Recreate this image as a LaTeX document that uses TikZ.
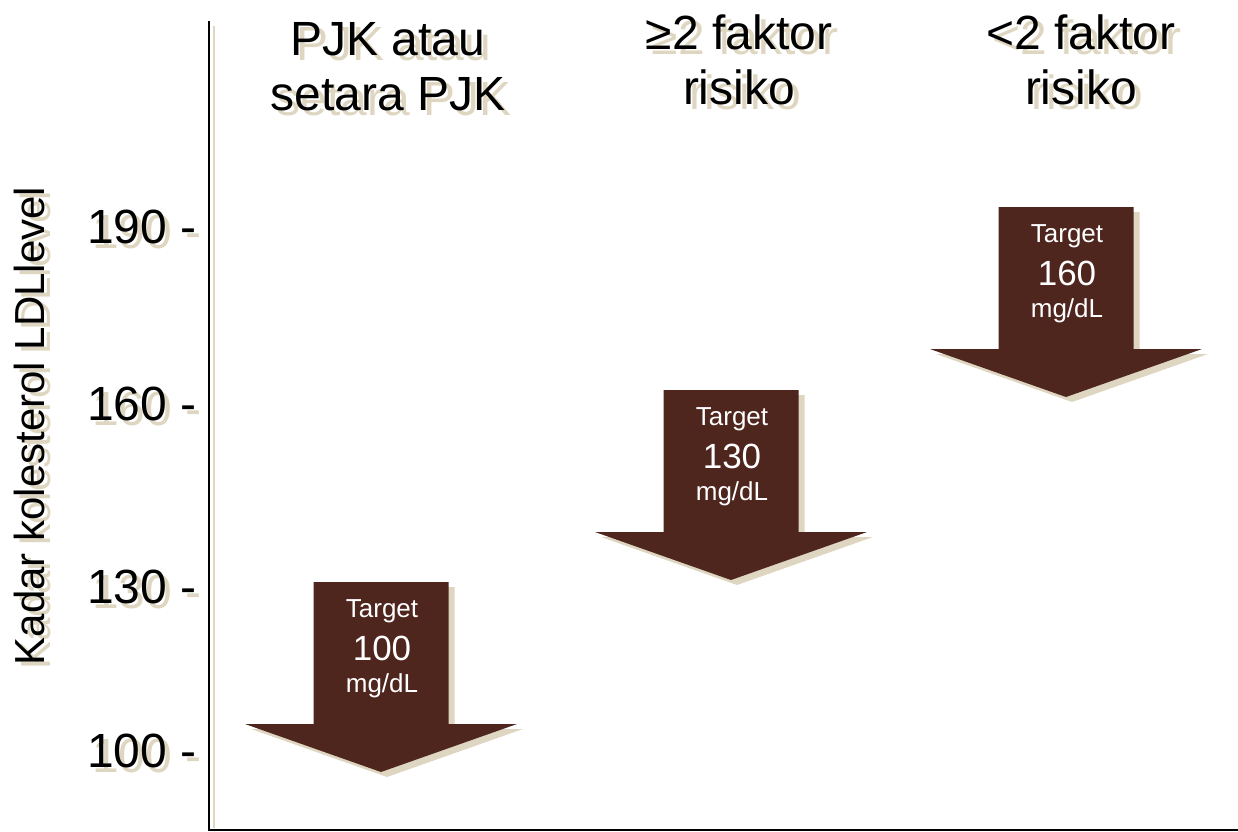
\documentclass[tikz,border=0pt]{standalone}
\usepackage{fontspec}
\setmainfont{Liberation Sans}
\usetikzlibrary{positioning}

\definecolor{arrowbrown}{RGB}{78,38,30}
\definecolor{shadowbeige}{RGB}{222,214,192}

\begin{document}
\begin{tikzpicture}[x=0.5pt,y=-0.5pt,
		headtext/.style={font=\fontsize{24}{27.5}\selectfont,align=center,inner sep=0pt,anchor=north},
		ticktext/.style={font=\fontsize{24}{28}\selectfont,inner sep=0pt,anchor=base east},
		titletext/.style={font=\fontsize{21}{25}\selectfont,inner sep=0pt,anchor=base,rotate=90},
		arrowtext/.style={font=\fontsize{13}{15}\selectfont,text=white,inner sep=0pt,anchor=base},
		valuetext/.style={font=\fontsize{17.5}{20}\selectfont,text=white,inner sep=0pt,anchor=base},
		beigecopy/.style={text=shadowbeige}]
		\useasboundingbox (0,0) rectangle (1238,831);

		% Axes
		\draw[shadowbeige,line width=1.2pt] (214,26) -- (214,828);
		\draw[line width=1pt] (209,21) -- (209,830) -- (1238,830);

		% Axis title
		\node[titletext,beigecopy] (title-s) at (50,430) {Kadar kolesterol LDLlevel};
		\node[titletext] (title) at (45,426) {Kadar kolesterol LDLlevel};

		% Tick labels
		\foreach \val/\yy in {190/243,160/420,130/603,100/767}{
			\node[ticktext,beigecopy] (tick\val-s) at (202,\yy+5) {\val\ -};
			\node[ticktext] (tick\val) at (197,\yy) {\val\ -};
		}

		% Column headers
		\node[headtext,beigecopy] (head1-s) at (394,27) {PJK atau\\setara PJK};
		\node[headtext] (head1) at (388,22) {PJK atau\\setara PJK};
		\node[headtext,beigecopy] (head2-s) at (745,19) {≥2 faktor\\risiko};
		\node[headtext] (head2) at (739,14) {≥2 faktor\\risiko};
		\node[headtext,beigecopy] (head3-s) at (1087,19) {<2 faktor\\risiko};
		\node[headtext] (head3) at (1081,14) {<2 faktor\\risiko};

		% Target arrows
		\foreach \cx/\ty/\val/\n in {381/582/100/a,731/390/130/b,1066/207/160/c}{
			\fill[shadowbeige] (\cx-61.5,\ty+5) -- (\cx+73.5,\ty+5) -- (\cx+73.5,\ty+147)
				-- (\cx+142,\ty+147) -- (\cx+6,\ty+195) -- (\cx-130,\ty+147)
				-- (\cx-61.5,\ty+147) -- cycle;
			\fill[arrowbrown] (\cx-67.5,\ty) -- (\cx+67.5,\ty) -- (\cx+67.5,\ty+142)
				-- (\cx+136,\ty+142) -- (\cx,\ty+190) -- (\cx-136,\ty+142)
				-- (\cx-67.5,\ty+142) -- cycle;
			\node[arrowtext] (\n-target) at (\cx+1,\ty+35) {Target};
			\node[valuetext] (\n-value) at (\cx+1,\ty+78) {\val};
			\node[arrowtext] (\n-unit) at (\cx+1,\ty+110) {mg/dL};
		}
	\end{tikzpicture}
\end{document}
